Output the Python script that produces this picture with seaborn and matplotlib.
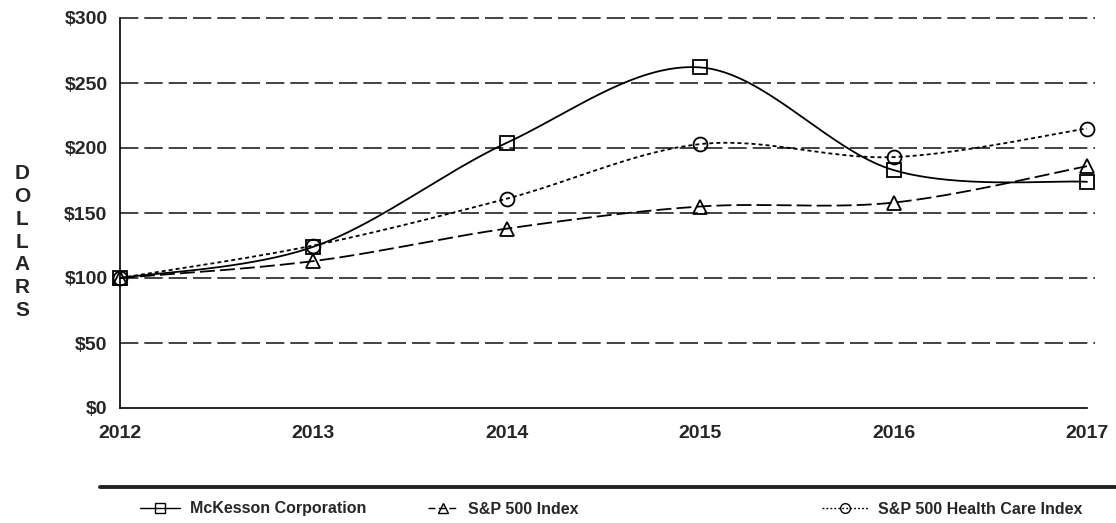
import numpy as np
import pandas as pd
import seaborn as sns
import matplotlib.pyplot as plt
from matplotlib.lines import Line2D

years = [2012, 2013, 2014, 2015, 2016, 2017]
mckesson = [100, 124, 204, 262, 183, 174]
sp500 = [100, 113, 138, 155, 158, 186]
sp500_health = [100, 125, 161, 203, 193, 215]
y_ticks = [0, 50, 100, 150, 200, 250, 300]
series_names = ["McKesson Corporation", "S&P 500 Index", "S&P 500 Health Care Index"]


def smooth(xs, ys, n=40):
    # bezier segments with catmull-rom style control points (like excel "smoothed line")
    pts = np.column_stack([np.asarray(xs, float), np.asarray(ys, float)])
    ext = np.vstack([pts[0], pts, pts[-1]])
    t = np.linspace(0, 1, n)[:, None]
    out = []
    for i in range(len(pts) - 1):
        p0, p3 = pts[i], pts[i + 1]
        p1 = p0 + (ext[i + 2] - ext[i]) / 6
        p2 = p3 - (ext[i + 3] - ext[i + 1]) / 6
        seg = (1 - t) ** 3 * p0 + 3 * (1 - t) ** 2 * t * p1 + 3 * (1 - t) * t ** 2 * p2 + t ** 3 * p3
        out.append(seg if i == 0 else seg[1:])
    out = np.vstack(out)
    return out[:, 0], out[:, 1]


sns.set_style("white")
plt.rcParams["font.family"] = ["Liberation Sans", "DejaVu Sans"]
plt.rcParams["font.weight"] = "bold"

fig = plt.figure(figsize=(11.16, 5.23), dpi=100)
ax = fig.add_axes([120 / 1116, 1 - 408 / 523, (1087 - 120) / 1116, (408 - 18) / 523])

styles = [
    dict(dashes=None, marker="s"),
    dict(dashes=(8.3, 2.8), marker="^"),
    dict(dashes=(2.2, 1.7), marker="o"),
]
data = [mckesson, sp500, sp500_health]

# dashed gridlines, running a little past the last year like the original
for v in y_ticks[1:]:
    ax.axhline(v, xmax=1.008, color="#222222", lw=1.2, dashes=(11, 3.6), zorder=1, clip_on=False)

for name, vals, st in zip(series_names, data, styles):
    sx, sy = smooth(years, vals)
    df = pd.DataFrame({"year": sx, "value": sy})
    sns.lineplot(data=df, x="year", y="value", ax=ax, color="black", lw=1.3,
                 sort=False, estimator=None, zorder=3)
    l = ax.lines[-1]
    if st["dashes"] is not None:
        l.set_dashes(st["dashes"])
    l.set_clip_on(False)
    ax.plot(years, vals, ls="none", marker=st["marker"], ms=10, mfc="none", mec="black",
            mew=1.3, zorder=4, clip_on=False)

ax.set_xlim(2012, 2017)
ax.set_ylim(0, 300)
ax.set_xticks(years)
ax.set_yticks(y_ticks)
ax.set_yticklabels([f"${v}" for v in y_ticks])
ax.set_xlabel("")
ax.set_ylabel("")
for s in ["top", "right"]:
    ax.spines[s].set_visible(False)
for s in ["left", "bottom"]:
    ax.spines[s].set_color("black")
    ax.spines[s].set_linewidth(1.2)
ax.tick_params(axis="y", direction="out", length=4, width=1.2, color="black", labelsize=14, pad=5)
ax.tick_params(axis="x", direction="in", length=6, width=1.2, color="black", labelsize=14, pad=12)
for lab in ax.get_xticklabels() + ax.get_yticklabels():
    lab.set_fontweight("bold")

fig.text(22 / 1116, 1 - 242 / 523, "\n".join("DOLLARS"), ha="center", va="center",
         fontsize=15, fontweight="bold", linespacing=1.26)

# rule above the legend
fig.add_artist(Line2D([100 / 1116, 1.0], [1 - 487 / 523] * 2, color="#222222", lw=2.8,
                      transform=fig.transFigure))

legend_x = [140, 428, 822]
legend_len = [2.5, 1.9, 2.9]
for name, st, lx, hl in zip(series_names, styles, legend_x, legend_len):
    h = Line2D([], [], color="black", lw=1.0, marker=st["marker"], ms=7, mfc="none",
               mec="black", mew=1.0)
    if st["dashes"] is not None:
        h.set_dashes((st["dashes"][0] * 0.6, st["dashes"][1] * 0.9))
    fig.legend(handles=[h], labels=[name], loc="center left", bbox_to_anchor=(lx / 1116, 1 - 509 / 523),
               frameon=False, borderpad=0, borderaxespad=0, handlelength=hl, handletextpad=0.6,
               prop={"weight": "bold", "size": 11.5})

fig.savefig("out.png", dpi=100)
